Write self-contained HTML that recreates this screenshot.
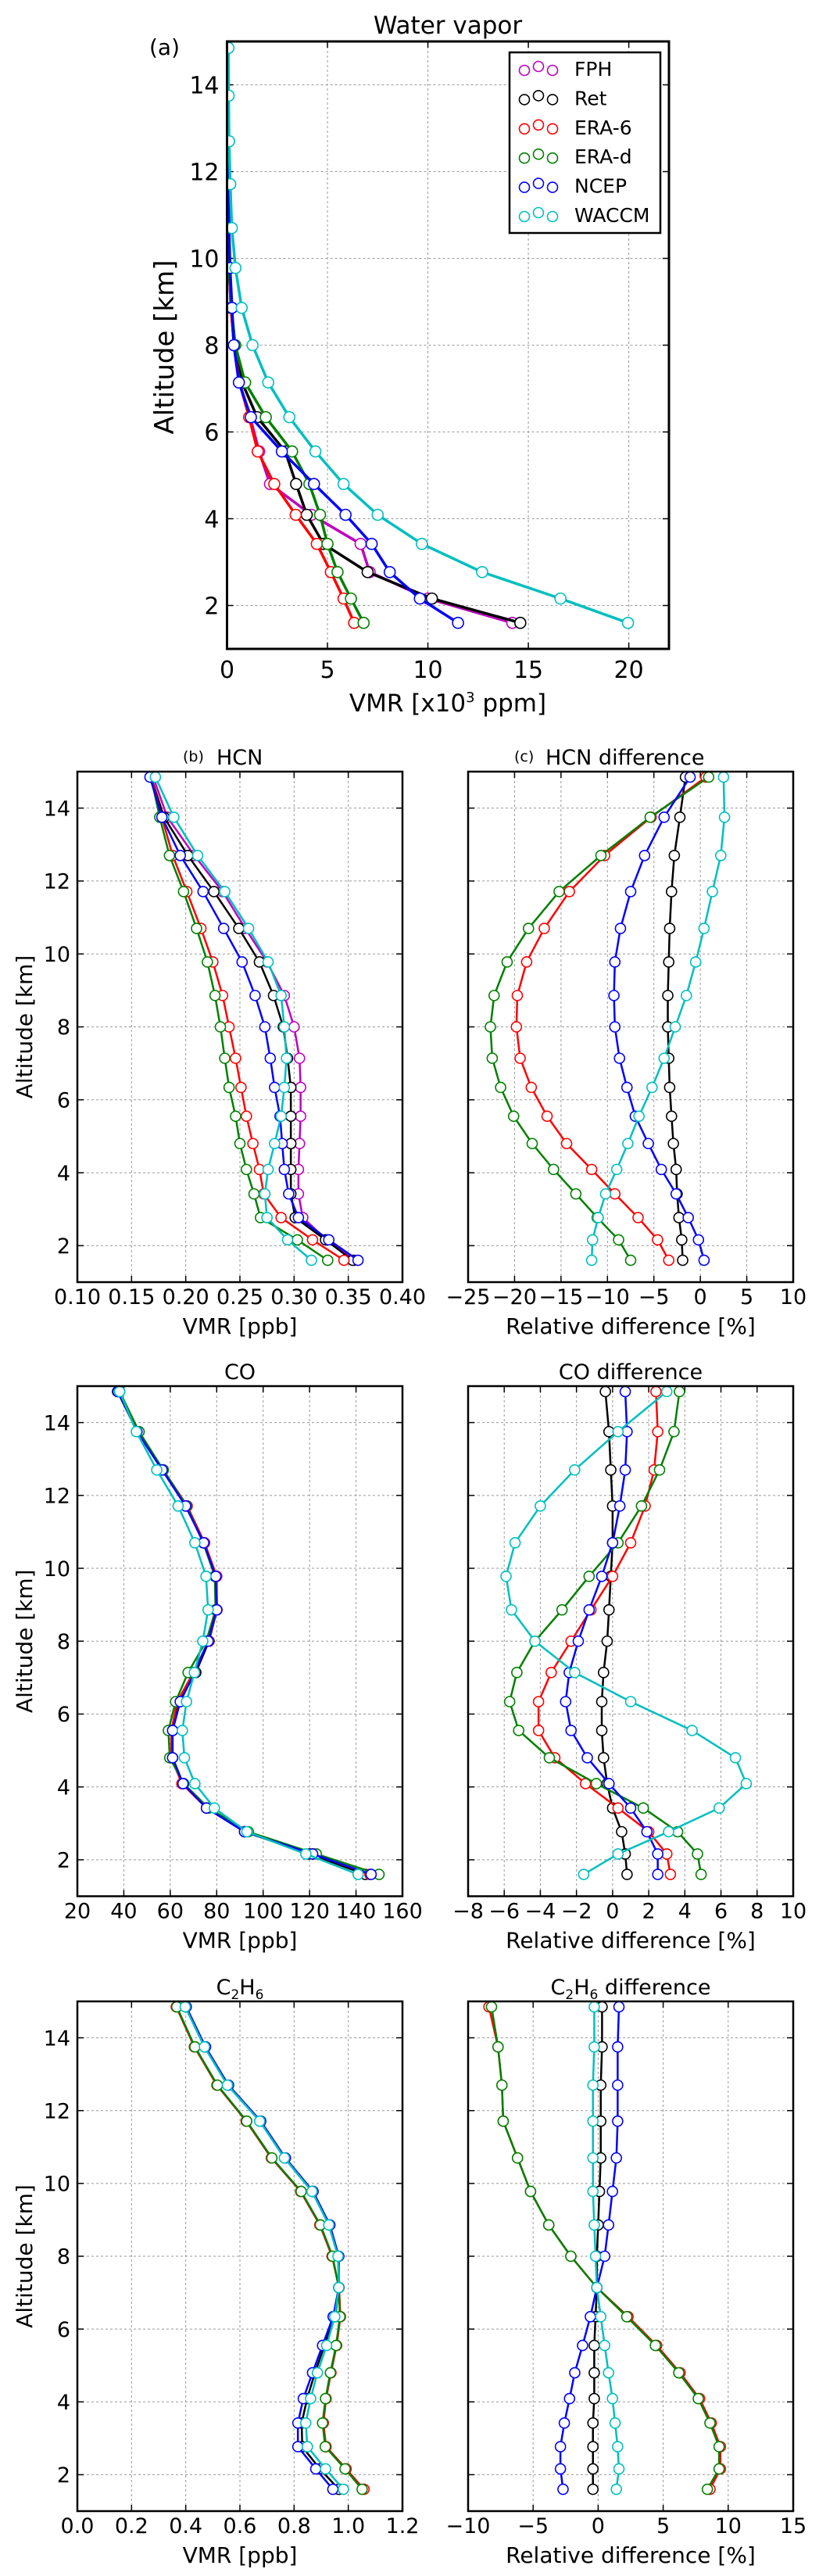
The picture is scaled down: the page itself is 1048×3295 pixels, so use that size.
<!DOCTYPE html>
<html><head><meta charset="utf-8"><title>Water vapor, HCN, CO, C2H6 profiles</title>
<style>html,body{margin:0;padding:0;background:#fff}svg{display:block;font-family:"DejaVu Sans","Liberation Sans",sans-serif}</style>
</head><body>
<svg id="fig" xmlns="http://www.w3.org/2000/svg" width="1048" height="3295" viewBox="0 0 1048 3295">
<rect x="0" y="0" width="1048" height="3295" fill="#fff"/>
</svg>
<script>
// ---- shared data ----
const altitudes = [1.6,2.16,2.77,3.42,4.09,4.8,5.55,6.34,7.14,8.0,8.86,9.78,10.7,11.71,12.7,13.75,14.85];
const seriesNames = ["FPH","Ret","ERA-6","ERA-d","NCEP","WACCM"];
const altTicks = [2,4,6,8,10,12,14];

// ---- (a) Water vapor [x10^3 ppm] ----
const wvFPH   = [14.2,10.0,7.1,6.65,4.2,2.14,1.6,1.15,0.62,0.35,0.2,0.1,0.05,0.03,0.02,0.02,0.02];
const wvRet   = [14.6,10.2,7.0,4.8,3.97,3.44,2.9,1.5,0.75,0.36,0.2,0.1,0.05,0.03,0.02,0.02,0.02];
const wvERA6  = [6.33,5.8,5.17,4.47,3.42,2.35,1.53,1.1,0.62,0.35,0.2,0.1,0.05,0.03,0.02,0.02,0.02];
const wvERAd  = [6.8,6.17,5.5,5.0,4.63,4.1,3.24,1.93,0.9,0.41,0.22,0.1,0.05,0.03,0.02,0.02,0.02];
const wvNCEP  = [11.5,9.6,8.1,7.2,5.9,4.33,2.73,1.19,0.59,0.34,0.25,0.15,0.1,0.06,0.05,0.04,0.04];
const wvWACCM = [19.96,16.6,12.7,9.7,7.5,5.8,4.4,3.1,2.05,1.27,0.73,0.42,0.24,0.16,0.1,0.08,0.07];
const wvTicks = [0,5,10,15,20];

// ---- (b) HCN [ppb] ----
const hcnFPH   = [0.356,0.330,0.308,0.304,0.304,0.305,0.306,0.306,0.305,0.300,0.291,0.275,0.255,0.234,0.208,0.183,0.170];
const hcnRet   = [0.354,0.329,0.301,0.297,0.297,0.297,0.297,0.297,0.294,0.290,0.281,0.268,0.249,0.226,0.202,0.180,0.168];
const hcnERA6  = [0.346,0.317,0.288,0.272,0.268,0.262,0.256,0.251,0.246,0.240,0.234,0.225,0.214,0.201,0.188,0.178,0.168];
const hcnERAd  = [0.331,0.303,0.269,0.263,0.256,0.250,0.246,0.240,0.236,0.232,0.227,0.220,0.210,0.198,0.185,0.176,0.168];
const hcnNCEP  = [0.359,0.332,0.304,0.295,0.291,0.289,0.287,0.282,0.278,0.273,0.264,0.252,0.235,0.216,0.195,0.178,0.167];
const hcnWACCM = [0.316,0.294,0.275,0.273,0.276,0.282,0.288,0.291,0.293,0.291,0.288,0.276,0.258,0.236,0.211,0.189,0.172];
const hcnTicks = [0.10,0.15,0.20,0.25,0.30,0.35,0.40];
const hcnTickLabels = ["0.10","0.15","0.20","0.25","0.30","0.35","0.40"];

// ---- (c) HCN difference [%] ----
const hcnDRet   = [-1.9,-2.0,-2.3,-2.5,-2.6,-2.9,-3.1,-3.3,-3.4,-3.5,-3.5,-3.4,-3.3,-3.1,-2.8,-2.2,-1.6];
const hcnDERA6  = [-3.4,-4.6,-6.7,-9.2,-11.7,-14.4,-16.5,-18.2,-19.4,-19.8,-19.7,-18.7,-16.8,-14.1,-10.3,-5.3,0.6];
const hcnDERAd  = [-7.5,-8.8,-11.1,-13.4,-15.8,-18.1,-20.1,-21.5,-22.4,-22.6,-22.2,-20.8,-18.5,-15.2,-10.7,-5.4,0.9];
const hcnDNCEP  = [0.4,-0.2,-1.3,-2.6,-4.2,-5.6,-7.0,-7.9,-8.7,-9.2,-9.3,-9.2,-8.6,-7.5,-6.0,-3.9,-1.1];
const hcnDWACCM = [-11.7,-11.6,-11.0,-10.2,-9.0,-7.8,-6.6,-5.2,-3.9,-2.7,-1.5,-0.5,0.4,1.3,2.2,2.6,2.5];
const hcnDTicks = [-25,-20,-15,-10,-5,0,5,10];
const hcnDTickLabels = ["\u221225","\u221220","\u221215","\u221210","\u22125","0","5","10"];

// ---- CO [ppb] ----
const coRet   = [144,120,92,75.6,65.5,61,61,63.5,71,76.7,80.1,79.9,74.5,67,56.7,45.8,37.3];
const coERA6  = [146,121.5,92,75.6,65,60.5,60.5,63,70,76.5,80.1,80,74.8,67.3,57,46,37.8];
const coERAd  = [149.9,122.9,93.6,76.5,65.8,59.8,59.2,62.3,67.7,75.5,79.5,79.2,74.2,67,57,46.6,38.2];
const coNCEP  = [146.5,121.3,92,75.6,65.5,61,61,64.3,70.5,76.3,80,79.6,74.4,66.6,56.5,45.7,37.5];
const coWACCM = [140.9,118.4,93,79,70.6,66.1,65.2,67,70.4,74,76.3,75.4,70.6,63.4,54.2,45.4,38.2];
const coTicks = [20,40,60,80,100,120,140,160];
const coTickLabels = ["20","40","60","80","100","120","140","160"];

// ---- CO difference [%] ----
const coDRet   = [0.8,0.7,0.5,0,-0.3,-0.5,-0.6,-0.6,-0.5,-0.3,-0.2,-0.1,0,0,-0.1,-0.2,-0.4];
const coDERA6  = [3.2,3.0,2.0,0.3,-1.5,-3.2,-4.1,-4.1,-3.4,-2.3,-1.2,0,1.0,1.8,2.3,2.5,2.4];
const coDERAd  = [4.9,4.7,3.6,1.7,-0.9,-3.5,-5.2,-5.7,-5.3,-4.3,-2.8,-1.3,0.3,1.6,2.6,3.4,3.7];
const coDNCEP  = [2.5,2.5,1.9,1.0,-0.2,-1.4,-2.3,-2.6,-2.4,-1.9,-1.3,-0.6,0,0.4,0.7,0.8,0.7];
const coDWACCM = [-1.6,0.3,3.1,5.9,7.4,6.8,4.4,1.0,-2.1,-4.3,-5.6,-5.9,-5.4,-4.0,-2.1,0.3,3.0];
const coDTicks = [-8,-6,-4,-2,0,2,4,6,8,10];
const coDTickLabels = ["\u22128","\u22126","\u22124","\u22122","0","2","4","6","8","10"];

// ---- C2H6 [ppb] ----
const c2Ret   = [0.965,0.895,0.830,0.828,0.848,0.877,0.912,0.952,0.965,0.963,0.930,0.868,0.766,0.675,0.556,0.471,0.400];
const c2ERA6  = [1.058,0.992,0.918,0.908,0.918,0.936,0.957,0.971,0.966,0.940,0.895,0.824,0.716,0.623,0.515,0.432,0.365];
const c2ERAd  = [1.051,0.988,0.915,0.905,0.916,0.934,0.955,0.969,0.965,0.942,0.897,0.826,0.718,0.625,0.517,0.434,0.367];
const c2NCEP  = [0.943,0.880,0.814,0.814,0.834,0.868,0.905,0.944,0.965,0.965,0.932,0.870,0.768,0.677,0.558,0.473,0.402];
const c2WACCM = [0.982,0.916,0.849,0.843,0.861,0.886,0.920,0.950,0.965,0.962,0.928,0.866,0.764,0.673,0.554,0.469,0.398];
const c2Ticks = [0.0,0.2,0.4,0.6,0.8,1.0,1.2];
const c2TickLabels = ["0.0","0.2","0.4","0.6","0.8","1.0","1.2"];

// ---- C2H6 difference [%] ----
const c2DRet   = [-0.4,-0.4,-0.4,-0.4,-0.3,-0.3,-0.3,-0.2,-0.1,-0.1,0.0,0.1,0.2,0.2,0.2,0.3,0.3];
const c2DERA6  = [8.6,9.4,9.4,8.7,7.8,6.3,4.5,2.3,-0.1,-2.1,-3.8,-5.2,-6.2,-7.3,-7.4,-7.7,-8.4];
const c2DERAd  = [8.4,9.3,9.3,8.6,7.7,6.2,4.4,2.2,-0.1,-2.1,-3.8,-5.2,-6.2,-7.3,-7.4,-7.7,-8.2];
const c2DNCEP  = [-2.7,-2.9,-2.9,-2.6,-2.2,-1.8,-1.2,-0.6,-0.1,0.5,0.8,1.1,1.4,1.5,1.5,1.5,1.6];
const c2DWACCM = [1.4,1.6,1.5,1.3,1.1,0.8,0.5,0.2,-0.1,-0.2,-0.3,-0.4,-0.4,-0.4,-0.4,-0.3,-0.3];
const c2DTicks = [-10,-5,0,5,10,15];
const c2DTickLabels = ["\u221210","\u22125","0","5","10","15"];

const COLORS = {"FPH":"#bf00bf","Ret":"#000000","ERA-6":"#ff0000","ERA-d":"#008000","NCEP":"#0000ff","WACCM":"#00bfbf"};
const NS = "http://www.w3.org/2000/svg";
const svg = document.getElementById("fig");

function mk(tag, attrs, parent) {
  const e = document.createElementNS(NS, tag);
  for (const k in attrs) e.setAttribute(k, attrs[k]);
  (parent || svg).appendChild(e);
  return e;
}
function slug(s){return s.toLowerCase().replace(/[^a-z0-9]+/g,'-').replace(/^-|-$/g,'');}

function makePanel(cfg) {
  const g = mk("g", {});
  
  
  const sx = v => cfg.x0 + (v - cfg.xmin) / (cfg.xmax - cfg.xmin) * (cfg.x1 - cfg.x0);
  const sy = a => cfg.y1 - (a - 1) / 14 * (cfg.y1 - cfg.y0);
  const grid = mk("g", {stroke:"#999", "stroke-width":"1", "stroke-dasharray":"3,3", fill:"none"}, g);
  
  
  cfg.xticks.forEach((t) => {
    const x = sx(t);
    if (x > cfg.x0 + 1 && x < cfg.x1 - 1) {
      const l = mk("line", {x1:x, x2:x, y1:cfg.y0, y2:cfg.y1}, grid);
      
      
    }
  });
  altTicks.forEach((t) => {
    const y = sy(t);
    const l = mk("line", {x1:cfg.x0, x2:cfg.x1, y1:y, y2:y}, grid);
    
    
  });
  const tk = mk("g", {stroke:"#000", "stroke-width":"1.5"}, g);
  
  
  cfg.xticks.forEach((t) => {
    const x = sx(t);
    const a = mk("line", {x1:x, x2:x, y1:cfg.y1, y2:cfg.y1 - 8}, tk);
    
    
    const b = mk("line", {x1:x, x2:x, y1:cfg.y0, y2:cfg.y0 + 8}, tk);
    
    
  });
  altTicks.forEach((t) => {
    const y = sy(t);
    const a = mk("line", {x1:cfg.x0, x2:cfg.x0 + 8, y1:y, y2:y}, tk);
    
    
    const b = mk("line", {x1:cfg.x1, x2:cfg.x1 - 8, y1:y, y2:y}, tk);
    
    
  });
  // tick labels
  const fs = cfg.tickFont;
  cfg.xticks.forEach((t, i) => {
    const tx = mk("text", {x:sx(t), y:cfg.y1 + cfg.xLabOff, "font-size":fs, "text-anchor":"middle", fill:"#000"}, g);
    
    
    tx.textContent = cfg.xlabels[i];
  });
  if (cfg.yLabels) {
    altTicks.forEach((t) => {
      const tx = mk("text", {x:cfg.x0 - cfg.yLabGap, y:sy(t) + fs * 0.36, "font-size":fs, "text-anchor":"end", fill:"#000"}, g);
      
      
      tx.textContent = String(t);
    });
  }
  const clipId = "clip-" + cfg.name;
  const cp = mk("clipPath", {id:clipId}, g);
  mk("rect", {x:cfg.x0, y:cfg.y0 - 10, width:cfg.x1 - cfg.x0, height:cfg.y1 - cfg.y0 + 10}, cp);
  const plot = mk("g", {"clip-path":"url(#" + clipId + ")"}, g);
  
  
  const frame = mk("rect", {x:cfg.x0, y:cfg.y0, width:cfg.x1 - cfg.x0, height:cfg.y1 - cfg.y0, fill:"none", stroke:"#000", "stroke-width":cfg.spine}, g);
  
  
  return {g, plot, sx, sy, cfg};
}

function drawSeries(p, name, values, lw, r) {
  const col = COLORS[name];
  const sg = mk("g", {}, p.plot);
  
  
  const pts = values.map((v, i) => p.sx(v).toFixed(2) + "," + p.sy(altitudes[i]).toFixed(2)).join(" ");
  const pl = mk("polyline", {points:pts, fill:"none", stroke:col, "stroke-width":lw, "stroke-linejoin":"round"}, sg);
  
  
  values.forEach((v, i) => {
    const c = mk("circle", {cx:p.sx(v), cy:p.sy(altitudes[i]), r:r, fill:"#fff", stroke:col, "stroke-width":"1.6"}, sg);
    
    
  });
}

function addText(x, y, size, str, anchor, name) {
  const t = mk("text", {x:x, y:y, "font-size":size, "text-anchor":anchor || "middle", fill:"#000"});
  
  
  t.textContent = str;
  return t;
}
function addYLabel(x, y, size, name) {
  const t = mk("text", {transform:"translate(" + x + "," + y + ") rotate(-90)", "font-size":size, "text-anchor":"middle", fill:"#000"});
  
  
  t.textContent = "Altitude [km]";
}

// ===== Panel (a) =====
const pa = makePanel({name:"water-vapor-panel", x0:290.5, x1:856, y0:53, y1:830, xmin:0, xmax:22,
  xticks:wvTicks, xlabels:wvTicks.map(String), yLabels:true, tickFont:30, xLabOff:37, yLabGap:10, spine:3});
drawSeries(pa, "FPH", wvFPH, 3.5, 7);
drawSeries(pa, "Ret", wvRet, 3.5, 7);
drawSeries(pa, "ERA-6", wvERA6, 3.5, 7);
drawSeries(pa, "ERA-d", wvERAd, 3.5, 7);
drawSeries(pa, "NCEP", wvNCEP, 3.5, 7);
drawSeries(pa, "WACCM", wvWACCM, 3.5, 7);
addText(573, 43, 31, "Water vapor", "middle", "water-vapor-title");
addText(191, 70, 28, "(a)", "start", "panel-label-a");
addYLabel(222, 444, 34, "y-axis-title-a");
const xa = addText(573, 910, 31, "VMR [x10", "middle", "x-axis-title-a");
const sup = mk("tspan", {dy:"-12", "font-size":"18"}, xa);
sup.textContent = "3";
const rest = mk("tspan", {dy:"12"}, xa);
rest.textContent = " ppm]";

// legend
const lg = mk("g", {});


const lbox = mk("rect", {x:652, y:67, width:193, height:231, fill:"#fff", stroke:"#000", "stroke-width":"2.5"}, lg);


seriesNames.forEach((n, i) => {
  const cy = 88 + i * 37.4;
  const e = mk("g", {}, lg);
  
  
  [[671, 2], [689, -3], [707, 2]].forEach(([x, dy]) => {
    const c = mk("circle", {cx:x, cy:cy + dy, r:6.5, fill:"#fff", stroke:COLORS[n], "stroke-width":"1.6"}, e);
    
    
  });
  const t = mk("text", {x:735, y:cy + 9, "font-size":25, fill:"#000"}, e);
  
  
  t.textContent = n;
});

// ===== lower panels =====
const LX0 = 99, LX1 = 515, RX0 = 599, RX1 = 1015;
const rows = [
  {y0:987, y1:1640}, {y0:1773, y1:2425.5}, {y0:2560, y1:3212}
];
function lowerPair(row, leftCfg, rightCfg) {
  const L = makePanel(Object.assign({x0:LX0, x1:LX1, y0:row.y0, y1:row.y1, yLabels:true, tickFont:27, xLabOff:28, yLabGap:9, spine:2.5}, leftCfg));
  const R = makePanel(Object.assign({x0:RX0, x1:RX1, y0:row.y0, y1:row.y1, yLabels:false, tickFont:27, xLabOff:28, yLabGap:9, spine:2.5}, rightCfg));
  addYLabel(41, (row.y0 + row.y1) / 2, 28, "y-axis-title");
  addText((LX0 + LX1) / 2, row.y1 + 66, 28, "VMR [ppb]", "middle", "x-axis-title-vmr");
  addText((RX0 + RX1) / 2, row.y1 + 66, 28, "Relative difference [%]", "middle", "x-axis-title-diff");
  return [L, R];
}

// HCN row
const [pb, pc] = lowerPair(rows[0],
  {name:"hcn-panel", xmin:0.10, xmax:0.40, xticks:hcnTicks, xlabels:hcnTickLabels},
  {name:"hcn-difference-panel", xmin:-25, xmax:10, xticks:hcnDTicks, xlabels:hcnDTickLabels});
drawSeries(pb, "FPH", hcnFPH, 2.5, 6.5);
drawSeries(pb, "Ret", hcnRet, 2.5, 6.5);
drawSeries(pb, "ERA-6", hcnERA6, 2.5, 6.5);
drawSeries(pb, "ERA-d", hcnERAd, 2.5, 6.5);
drawSeries(pb, "NCEP", hcnNCEP, 2.5, 6.5);
drawSeries(pb, "WACCM", hcnWACCM, 2.5, 6.5);
drawSeries(pc, "Ret", hcnDRet, 2.5, 6.5);
drawSeries(pc, "ERA-6", hcnDERA6, 2.5, 6.5);
drawSeries(pc, "ERA-d", hcnDERAd, 2.5, 6.5);
drawSeries(pc, "NCEP", hcnDNCEP, 2.5, 6.5);
drawSeries(pc, "WACCM", hcnDWACCM, 2.5, 6.5);
addText(234, 974, 19, "(b)", "start", "panel-label-b");
addText(277, 978, 27, "HCN", "start", "hcn-title");
addText(658, 974, 19, "(c)", "start", "panel-label-c");
addText(698, 978, 27, "HCN difference", "start", "hcn-difference-title");

// CO row
const [pd, pe] = lowerPair(rows[1],
  {name:"co-panel", xmin:20, xmax:160, xticks:coTicks, xlabels:coTickLabels},
  {name:"co-difference-panel", xmin:-8, xmax:10, xticks:coDTicks, xlabels:coDTickLabels});
drawSeries(pd, "Ret", coRet, 2.5, 6.5);
drawSeries(pd, "ERA-6", coERA6, 2.5, 6.5);
drawSeries(pd, "ERA-d", coERAd, 2.5, 6.5);
drawSeries(pd, "NCEP", coNCEP, 2.5, 6.5);
drawSeries(pd, "WACCM", coWACCM, 2.5, 6.5);
drawSeries(pe, "Ret", coDRet, 2.5, 6.5);
drawSeries(pe, "ERA-6", coDERA6, 2.5, 6.5);
drawSeries(pe, "ERA-d", coDERAd, 2.5, 6.5);
drawSeries(pe, "NCEP", coDNCEP, 2.5, 6.5);
drawSeries(pe, "WACCM", coDWACCM, 2.5, 6.5);
addText(307, 1764, 27, "CO", "middle", "co-title");
addText(807, 1764, 27, "CO difference", "middle", "co-difference-title");

// C2H6 row
const [pf, pg] = lowerPair(rows[2],
  {name:"c2h6-panel", xmin:0, xmax:1.2, xticks:c2Ticks, xlabels:c2TickLabels},
  {name:"c2h6-difference-panel", xmin:-10, xmax:15, xticks:c2DTicks, xlabels:c2DTickLabels});
drawSeries(pf, "Ret", c2Ret, 2.5, 6.5);
drawSeries(pf, "ERA-6", c2ERA6, 2.5, 6.5);
drawSeries(pf, "ERA-d", c2ERAd, 2.5, 6.5);
drawSeries(pf, "NCEP", c2NCEP, 2.5, 6.5);
drawSeries(pf, "WACCM", c2WACCM, 2.5, 6.5);
drawSeries(pg, "Ret", c2DRet, 2.5, 6.5);
drawSeries(pg, "ERA-6", c2DERA6, 2.5, 6.5);
drawSeries(pg, "ERA-d", c2DERAd, 2.5, 6.5);
drawSeries(pg, "NCEP", c2DNCEP, 2.5, 6.5);
drawSeries(pg, "WACCM", c2DWACCM, 2.5, 6.5);
function chemTitle(x, suffix, name) {
  const t = mk("text", {x:x, y:2551, "font-size":27, "text-anchor":"middle", fill:"#000"});
  
  
  const a = mk("tspan", {}, t); a.textContent = "C";
  const b = mk("tspan", {dy:"6", "font-size":"17"}, t); b.textContent = "2";
  const c = mk("tspan", {dy:"-6"}, t); c.textContent = "H";
  const d = mk("tspan", {dy:"6", "font-size":"17"}, t); d.textContent = "6";
  const e = mk("tspan", {dy:"-6"}, t); e.textContent = suffix;
}
chemTitle(307, "", "c2h6-title");
chemTitle(807, " difference", "c2h6-difference-title");
</script>
</body></html>
